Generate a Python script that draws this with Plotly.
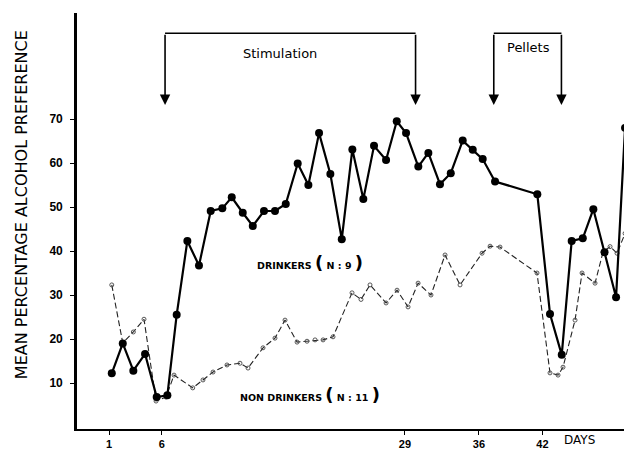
import plotly.graph_objects as go

# ---- data ----
drink_days = [1.26, 2.30, 3.30, 4.41, 5.51, 6.52, 7.40, 8.41, 9.51, 10.62, 11.72, 12.61,
              13.65, 14.60, 15.66, 16.70, 17.72, 18.85, 19.86, 20.87, 21.94, 23.02, 24.02,
              25.06, 26.07, 27.21, 28.22, 29.10, 30.26, 31.21, 32.31, 33.33, 34.46, 35.41,
              36.35, 37.52, 41.52, 42.72, 43.83, 44.77, 45.82, 46.82, 47.88, 48.97, 49.82]
drink_vals = [12.2, 19.0, 12.8, 16.6, 6.8, 7.2, 25.5, 42.3, 36.7, 49.1, 49.7, 52.2,
              48.7, 45.7, 49.1, 49.1, 50.7, 59.9, 55.0, 66.8, 57.5, 42.7, 63.1,
              51.8, 63.9, 60.7, 69.5, 66.8, 59.2, 62.3, 55.2, 57.7, 65.1, 63.0,
              60.9, 55.8, 52.9, 25.7, 16.4, 42.3, 42.9, 49.5, 39.7, 29.5, 68.0]

non_days = [1.26, 2.30, 3.30, 4.31, 5.45, 6.39, 7.15, 8.92, 9.89, 10.84, 12.16, 13.39,
            14.15, 15.57, 16.70, 17.65, 18.79, 19.73, 20.49, 21.25, 22.19, 23.99, 24.84,
            25.69, 27.21, 28.25, 29.29, 30.24, 31.46, 32.79, 34.21, 36.29, 37.05, 37.99,
            41.49, 42.72, 43.48, 43.95, 45.09, 45.75, 46.98, 47.74, 48.40, 49.06, 49.82]
non_vals = [32.3, 19.1, 21.6, 24.5, 5.9, 6.8, 11.8, 8.9, 10.7, 12.5, 14.1, 14.5,
            13.4, 18.0, 20.2, 24.3, 19.3, 19.5, 19.8, 19.8, 20.5, 30.5, 29.0,
            32.3, 28.2, 31.1, 27.3, 32.7, 30.0, 39.1, 32.3, 39.5, 41.1, 40.9,
            35.0, 12.3, 11.8, 13.6, 24.3, 35.0, 32.7, 39.8, 41.0, 39.5, 44.0]

y_ticks = [10, 20, 30, 40, 50, 60, 70]
x_ticks = [1, 6, 29, 36, 42]
x_tick_labels = ["1", "6", "29", "36", "42"]

fig = go.Figure()

fig.add_trace(go.Scatter(
    x=non_days, y=non_vals, mode="lines+markers",
    line=dict(color="#222", width=1.1, dash="6px,3px"),
    marker=dict(symbol="circle-open", size=4, color="#444", line=dict(width=0.9)),
    showlegend=False, hoverinfo="skip"))

fig.add_trace(go.Scatter(
    x=drink_days, y=drink_vals, mode="lines+markers",
    line=dict(color="black", width=2.2),
    marker=dict(symbol="circle", size=8, color="black"),
    showlegend=False, hoverinfo="skip"))

# brackets
top_y = 89.5
tip_y = 73.2
brackets = [(6.3, 30.0, "Stimulation", 17.2, 85.0), (37.4, 43.8, "Pellets", 40.7, 86.2)]
for x0, x1, label, tx, ty in brackets:
    fig.add_shape(type="line", xref="x", yref="y", x0=x0, x1=x1, y0=top_y, y1=top_y,
                  line=dict(color="black", width=1.6))
    for xv in (x0, x1):
        fig.add_annotation(x=xv, y=tip_y, ax=xv, ay=top_y, axref="x", ayref="y",
                           xref="x", yref="y", text="", showarrow=True,
                           arrowhead=2, arrowsize=1.3, arrowwidth=1.6, arrowcolor="black")
    fig.add_annotation(x=tx, y=ty, xref="x", yref="y", text=label, showarrow=False,
                       font=dict(family="DejaVu Sans", size=13, color="black"))

big = '<span style="font-size:18px">'
fig.add_annotation(x=20.0, y=37.5, xref="x", yref="y", showarrow=False,
                   text="DRINKERS " + big + "(</span> N : 9 " + big + ")</span>",
                   font=dict(family="DejaVu Sans", size=9.5, color="black", weight="bold"))
fig.add_annotation(x=20.0, y=7.5, xref="x", yref="y", showarrow=False,
                   text="NON DRINKERS " + big + "(</span> N : 11 " + big + ")</span>",
                   font=dict(family="DejaVu Sans", size=9.5, color="black", weight="bold"))

fig.add_annotation(x=43.9, y=-0.048, xref="x", yref="paper", xanchor="left", showarrow=False,
                   text="DAYS", font=dict(family="DejaVu Sans", size=12, color="black"))

fig.add_annotation(x=-0.122, y=0.54, xref="paper", yref="paper", showarrow=False, textangle=-90,
                   text="MEAN PERCENTAGE ALCOHOL PREFERENCE",
                   font=dict(family="DejaVu Sans", size=16, color="black"))

fig.update_layout(
    width=624, height=451,
    margin=dict(l=77, r=0, t=13, b=22, autoexpand=False),
    paper_bgcolor="white", plot_bgcolor="white",
    xaxis=dict(range=[-2.03, 49.72], showgrid=False, zeroline=False, automargin=False,
               showline=True, linecolor="black", linewidth=2.2,
               tickmode="array", tickvals=x_ticks, ticktext=x_tick_labels,
               ticks="outside", ticklen=4, tickwidth=1.2, tickcolor="black",
               ticklabelstandoff=0,
               tickfont=dict(family="Liberation Sans", size=11, color="black", weight="bold")),
    yaxis=dict(range=[-0.45, 94.1], showgrid=False, zeroline=False, automargin=False,
               showline=True, linecolor="black", linewidth=2.6,
               tickmode="array", tickvals=y_ticks,
               ticks="outside", ticklen=4, tickwidth=1, tickcolor="black",
               ticklabelstandoff=5,
               tickfont=dict(family="Liberation Sans", size=12, color="black", weight="bold")),
)

fig.write_html("out.html", config={"displayModeBar": False},
               post_script="document.body.style.margin='0';document.body.style.overflow='hidden';")
